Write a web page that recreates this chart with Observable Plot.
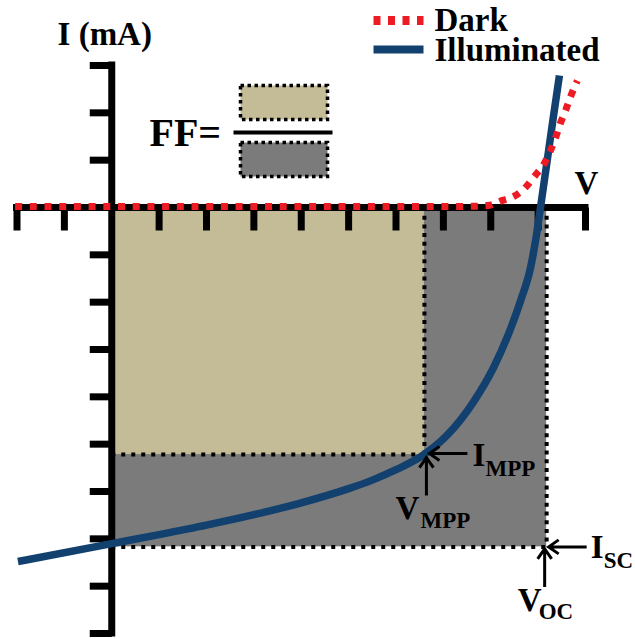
<!DOCTYPE html>
<html>
<head>
<meta charset="utf-8">
<script src="https://cdn.jsdelivr.net/npm/d3@7"></script>
<script src="https://cdn.jsdelivr.net/npm/@observablehq/plot@0.6"></script>
<style>
  html, body { margin: 0; padding: 0; background: #ffffff; }
  #chart svg { display: block; }
</style>
</head>
<body>
<div id="chart"></div>
<script>
// ---- data ----
const vTicks = [-2, -1, 0, 1, 2, 3, 4, 5, 6, 7, 8, 9, 10];
const iTicks = [-9, -8, -7, -6, -5, -4, -3, -2, -1, 0, 1, 2, 3];
const axisLabels = ["V", "I (mA)"];
const seriesNames = ["Dark", "Illuminated"];

const darkV = [-2.04, 7.0, 7.78, 7.99, 8.25, 8.48, 8.73, 8.94, 9.13, 9.26, 9.37, 9.47, 9.58, 9.68, 9.83];
const darkI = [0.02, 0.02, 0.03, 0.05, 0.15, 0.23, 0.42, 0.68, 0.93, 1.2, 1.48, 1.78, 2.05, 2.33, 2.68];

const illumV = [-1.98, 0, 1, 2, 3, 4, 5, 5.5, 6, 6.62, 7.09, 7.64, 8.06, 8.38, 8.63, 8.84, 8.97, 9.05, 9.2, 9.32, 9.45];
const illumI = [-7.48, -7.1, -6.91, -6.71, -6.49, -6.24, -5.94, -5.76, -5.54, -5.2, -4.8, -4.1, -3.38, -2.66, -1.97, -1.27, -0.55, 0, 1.05, 1.9, 2.79];

// rectangles: [0] = maximum power point (Vmpp, Impp), [1] = (Voc, Isc)
const rectV = [6.6, 9.18];
const rectI = [-5.22, -7.17];

const annMain = ["I", "V", "I", "V"];
const annSub = ["MPP", "MPP", "SC", "OC"];
const formulaText = ["FF="];

// ---- tables built from the arrays ----
const dark = darkV.map((v, k) => ({v, i: darkI[k]}));
const illum = illumV.map((v, k) => ({v, i: illumI[k]}));
const rects = rectV.map((v, k) => ({v, i: rectI[k]}));

// ---- styles ----
const TAN = "#c3bc97", GRAY = "#7b7b7b", BLUE = "#12406f", RED = "#ed1c24";
const FONT = "Liberation Serif, Times New Roman, serif";
const lineShape = {draw(ctx, l) { ctx.moveTo(0, 0); ctx.lineTo(0, -l); }};
const arrowShape = {draw(ctx, l) {
  ctx.moveTo(0, 0); ctx.lineTo(0, -l);
  ctx.moveTo(-7, -l + 10); ctx.lineTo(0, -l); ctx.lineTo(7, -l + 10);
}};

const txt = (o) => ({fontFamily: FONT, fontWeight: "bold", fill: "#000", textAnchor: "start", lineAnchor: "bottom", ...o});

// annotation layout (pixel offsets from their anchor points)
const annLayout = [
  {k: 0, rot: 270, adx: 5, ady: -1, mdx: 48, mdy: 11, sdx: 61, sdy: 21},
  {k: 0, rot: 0, adx: 2, ady: 3, mdx: -29, mdy: 64, sdx: -4, sdy: 73},
  {k: 1, rot: 270, adx: 2, ady: 0, mdx: 44, mdy: 11, sdx: 57, sdy: 21},
  {k: 1, rot: 0, adx: -2, ady: 2, mdx: -29, mdy: 64, sdx: -8, sdy: 72}
];

const annMarks = annLayout.flatMap((a, j) => {
  const p = [rects[a.k]];
  return [
    Plot.vector(p, {x: "v", y: "i", rotate: a.rot, length: 38, anchor: "end", shape: arrowShape,
      stroke: "#000", strokeWidth: 3, strokeLinecap: "butt", strokeLinejoin: "miter", dx: a.adx, dy: a.ady}),
    Plot.text(p, txt({x: "v", y: "i", text: () => annMain[j], fontSize: 33, dx: a.mdx, dy: a.mdy})),
    Plot.text(p, txt({x: "v", y: "i", text: () => annSub[j], fontSize: 23, dx: a.sdx, dy: a.sdy}))
  ];
});

const chart = Plot.plot({
  width: 635,
  height: 639,
  margin: 0,
  style: {background: "#ffffff", overflow: "visible"},
  x: {domain: [vTicks[0], vTicks[vTicks.length - 1]], range: [16.5, 585], axis: null},
  y: {domain: [iTicks[0], iTicks[iTicks.length - 1]], range: [633, 65], axis: null},
  marks: [
    // power rectangles
    Plot.rect([rects[1]], {x1: 0, x2: "v", y1: 0, y2: "i", fill: GRAY}),
    Plot.rect([rects[0]], {x1: 0, x2: "v", y1: 0, y2: "i", fill: TAN}),
    Plot.ruleX(rects, {x: "v", y1: 0, y2: "i", stroke: "#000", strokeWidth: 4, strokeDasharray: "4,4.7"}),
    Plot.ruleY(rects, {y: "i", x1: 0, x2: "v", stroke: "#000", strokeWidth: 4, strokeDasharray: "4,6"}),
    // ticks
    Plot.vector(vTicks.filter(d => d !== 0), {x: d => d, y: 0, rotate: 180, length: 23, anchor: "start",
      shape: lineShape, stroke: "#000", strokeWidth: 7, strokeLinecap: "butt"}),
    Plot.vector(iTicks.filter(d => d !== 0), {x: 0, y: d => d, rotate: 270, length: 22, anchor: "start",
      shape: lineShape, stroke: "#000", strokeWidth: 7, strokeLinecap: "butt"}),
    // axes
    Plot.ruleY([0], {x1: vTicks[0], x2: vTicks[vTicks.length - 1], stroke: "#000", strokeWidth: 7, strokeLinecap: "square"}),
    Plot.ruleX([0], {y1: iTicks[0], y2: iTicks[iTicks.length - 1], stroke: "#000", strokeWidth: 7, strokeLinecap: "square"}),
    // curves
    Plot.line(illum, {x: "v", y: "i", stroke: BLUE, strokeWidth: 7.5, curve: "monotone-x", strokeLinecap: "butt"}),
    Plot.line(dark, {x: "v", y: "i", stroke: RED, strokeWidth: 7, strokeDasharray: "7,7.7", curve: "monotone-x", strokeLinecap: "butt"}),
    // axis labels
    Plot.text([axisLabels[1]], txt({x: 0, y: iTicks[iTicks.length - 1], text: d => d, fontSize: 33, textAnchor: "middle", dx: -7, dy: -21})),
    Plot.text([axisLabels[0]], txt({x: vTicks[vTicks.length - 1], y: 0, text: d => d, fontSize: 33, textAnchor: "middle", dx: 1, dy: -14})),
    // annotations
    ...annMarks,
    // FF formula
    Plot.text(formulaText, txt({frameAnchor: "top-left", text: d => d, fontSize: 40, dx: 149, dy: 145})),
    Plot.frame({fill: TAN, stroke: "#000", strokeWidth: 3.5, strokeDasharray: "3.5,3.5",
      insetLeft: 240, insetRight: 635 - 327, insetTop: 85, insetBottom: 639 - 119}),
    Plot.frame({fill: "#000", stroke: "none",
      insetLeft: 233, insetRight: 635 - 332, insetTop: 130, insetBottom: 639 - 134}),
    Plot.frame({fill: GRAY, stroke: "#000", strokeWidth: 3.5, strokeDasharray: "3.5,3.5",
      insetLeft: 240, insetRight: 635 - 327, insetTop: 142, insetBottom: 639 - 176}),
    // legend
    Plot.vector([seriesNames[0]], {frameAnchor: "top-left", rotate: 90, length: 50, anchor: "start", shape: lineShape,
      stroke: RED, strokeWidth: 9, strokeDasharray: "7,7.5", strokeLinecap: "butt", dx: 373, dy: 20}),
    Plot.vector([seriesNames[1]], {frameAnchor: "top-left", rotate: 90, length: 50, anchor: "start", shape: lineShape,
      stroke: BLUE, strokeWidth: 8, strokeLinecap: "butt", dx: 373, dy: 49}),
    Plot.text([seriesNames[0]], txt({frameAnchor: "top-left", text: d => d, fontSize: 33, dx: 434, dy: 30})),
    Plot.text([seriesNames[1]], txt({frameAnchor: "top-left", text: d => d, fontSize: 33, dx: 434, dy: 60}))
  ]
});

document.getElementById("chart").appendChild(chart);
</script>
</body>
</html>
